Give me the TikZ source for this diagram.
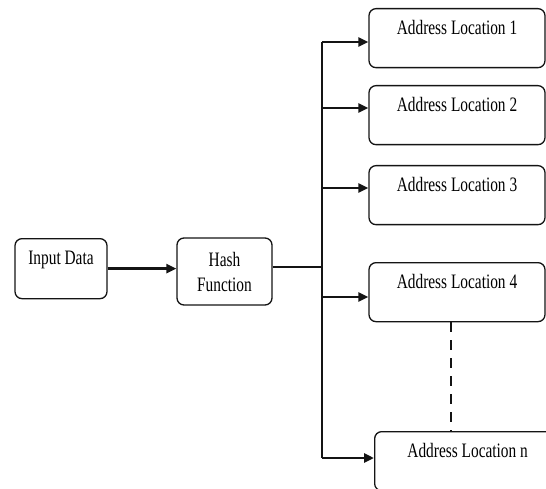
\documentclass[tikz,border=0pt]{standalone}
\usepackage{fontspec}
\setmainfont{Liberation Serif}[FakeStretch=0.75]
\usetikzlibrary{arrows.meta, positioning, calc}
\definecolor{ink}{RGB}{20, 20, 20}
\tikzset{
  block/.style={
    draw=ink, line width=1.3pt, fill=white,
    rounded corners=7pt, inner sep=0pt, align=center,
    font=\fontsize{20.5}{25}\selectfont
  },
  slot/.style={
    block, minimum width=176pt,
    text height=26pt, text depth=33pt
  },
  feed/.style={-{Triangle[length=10pt, width=9pt]}, line width=2.6pt, ink},
  wire/.style={line width=1.2pt, ink},
  gap/.style={line width=1.2pt, ink, dash pattern=on 10pt off 8pt},
}

\begin{document}
\begin{tikzpicture}[x=1pt, y=-1pt]

  \clip (0, 0) rectangle (546, 489);

  % ============ INPUT SIDE ============
  \node[block, minimum width=92pt, text height=26pt, text depth=34pt]
    (input) at (61, 238) [anchor=north] {Input Data};
  \node[block, minimum width=95pt, minimum height=67pt]
    (hash) at (224.5, 271.5) {Hash\\Function};

  \draw[feed] (input.east) -- (input.east -| hash.west);

  % ============ ADDRESS TABLE ============
  \node[slot, anchor=north] (loc1) at (457,   8) {Address Location 1};
  \node[slot, anchor=north] (loc2) at (457,  85) {Address Location 2};
  \node[slot, anchor=north] (loc3) at (457, 165) {Address Location 3};
  \node[slot, anchor=north] (loc4) at (457, 262) {Address Location 4};
  % last slot runs off the right edge
  \node[slot, minimum width=186pt, anchor=north west]
    (locn) at (374, 431) {Address Location n};

  % ============ FAN-OUT BUS ============
  \coordinate (split) at (322, 267);
  \foreach \i/\y in {1/42, 2/108, 3/188, 4/297, n/458} {
    \coordinate (bus\i) at (322, \y);
  }

  \draw[wire] (hash.east |- split) -- (split);
  \draw[wire] (bus1) -- (busn);
  \foreach \i in {1, 2, 3, 4, n} {
    \draw[feed] (bus\i) -- (bus\i -| loc\i.west);
  }

  % skipped locations between 4 and n
  \draw[gap] ([xshift=-6pt]loc4.south) -- ([xshift=-6pt]loc4.south |- locn.north);

\end{tikzpicture}
\end{document}
